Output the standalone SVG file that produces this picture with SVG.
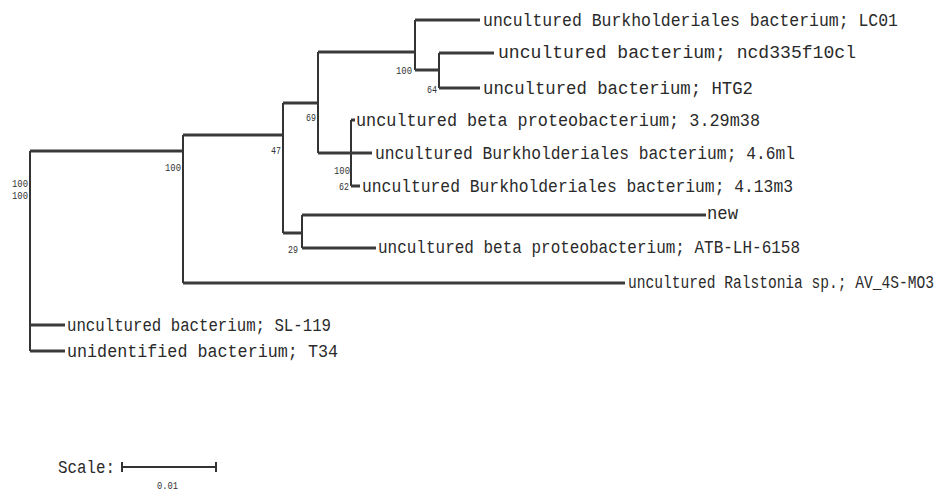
<svg xmlns="http://www.w3.org/2000/svg" width="945" height="493" viewBox="0 0 945 493">
<style>
.h{stroke:#3a3a3a;stroke-width:3;fill:none}
.v{stroke:#333;stroke-width:2;fill:none}
.lbl{font-family:"Liberation Mono",monospace;font-size:19px;fill:#2a2a2a}
.bs{font-family:"Liberation Mono",monospace;font-size:10px;fill:#333;text-anchor:end}
</style>
<rect width="945" height="493" fill="#fff"/>
<g id="connectors">
<path class="v" d="M30 151V351M183 135V283M283 103V233M318 52V153M415 20V70M439 53V88M351 120V186M302 215V248"/>
<path class="h" d="M30 151H183M30 325H65M30 351H65M183 135H283M183 283H625M283 103H318M283 233H302M318 52H415M318 153H372M415 20H480M415 70H439M439 53H494M439 88H480M351 120H355M351 186H360M302 215H706M302 248H376"/>
</g>
<g id="leaf-LC01"><text class="lbl" transform="translate(483 26) scale(1 1.154)" x="0" y="0" style="font-size:16.47px" textLength="415" lengthAdjust="spacingAndGlyphs">uncultured Burkholderiales bacterium; LC01</text></g>
<g id="leaf-ncd335f10cl"><text class="lbl" x="498" y="58" textLength="358" lengthAdjust="spacingAndGlyphs">uncultured bacterium; ncd335f10cl</text></g>
<g id="leaf-HTG2"><text class="lbl" x="483" y="94" textLength="270" lengthAdjust="spacingAndGlyphs">uncultured bacterium; HTG2</text></g>
<g id="leaf-3.29m38"><text class="lbl" x="356" y="126" textLength="404" lengthAdjust="spacingAndGlyphs">uncultured beta proteobacterium; 3.29m38</text></g>
<g id="leaf-4.6ml"><text class="lbl" x="375" y="159" textLength="420" lengthAdjust="spacingAndGlyphs">uncultured Burkholderiales bacterium; 4.6ml</text></g>
<g id="leaf-4.13m3"><text class="lbl" x="362" y="192" textLength="431" lengthAdjust="spacingAndGlyphs">uncultured Burkholderiales bacterium; 4.13m3</text></g>
<g id="leaf-new"><text class="lbl" x="707" y="219" textLength="31" lengthAdjust="spacingAndGlyphs">new</text></g>
<g id="leaf-ATB"><text class="lbl" x="378" y="253" textLength="422" lengthAdjust="spacingAndGlyphs">uncultured beta proteobacterium; ATB-LH-6158</text></g>
<g id="leaf-Ralstonia"><text class="lbl" transform="translate(628 288) scale(1 1.304)" x="0" y="0" style="font-size:14.57px" textLength="306" lengthAdjust="spacingAndGlyphs">uncultured Ralstonia sp.; AV_4S-MO3</text></g>
<g id="leaf-SL-119"><text class="lbl" x="67" y="331" textLength="264" lengthAdjust="spacingAndGlyphs">uncultured bacterium; SL-119</text></g>
<g id="leaf-T34"><text class="lbl" x="67" y="357" textLength="271" lengthAdjust="spacingAndGlyphs">unidentified bacterium; T34</text></g>
<g id="bootstrap">
<text class="bs" x="28" y="187" textLength="16" lengthAdjust="spacingAndGlyphs">100</text>
<text class="bs" x="28" y="199" textLength="16" lengthAdjust="spacingAndGlyphs">100</text>
<text class="bs" x="181" y="171" textLength="16" lengthAdjust="spacingAndGlyphs">100</text>
<text class="bs" x="281" y="154" textLength="10" lengthAdjust="spacingAndGlyphs">47</text>
<text class="bs" x="316" y="121" textLength="10" lengthAdjust="spacingAndGlyphs">69</text>
<text class="bs" x="412" y="74" textLength="16" lengthAdjust="spacingAndGlyphs">100</text>
<text class="bs" x="437" y="93" textLength="10" lengthAdjust="spacingAndGlyphs">64</text>
<text class="bs" x="350" y="174" textLength="16" lengthAdjust="spacingAndGlyphs">100</text>
<text class="bs" x="349" y="190" textLength="10" lengthAdjust="spacingAndGlyphs">62</text>
<text class="bs" x="298" y="253" textLength="10" lengthAdjust="spacingAndGlyphs">29</text>
</g>
<g id="scale">
<text class="lbl" x="58" y="473" textLength="57" lengthAdjust="spacingAndGlyphs">Scale:</text>
<path class="v" d="M122 467H216M122 462V472M216 462V472" stroke-width="1.5"/>
<text class="bs" x="178" y="489" textLength="21" lengthAdjust="spacingAndGlyphs">0.01</text>
</g>
</svg>
